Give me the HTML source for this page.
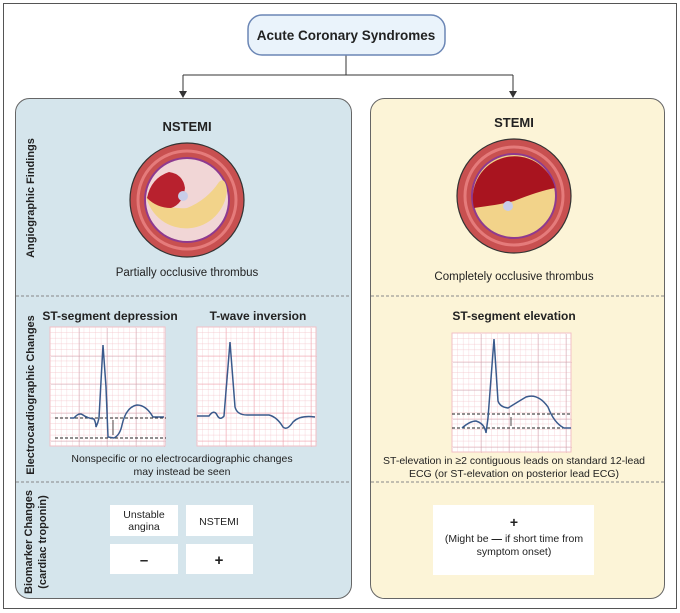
<!DOCTYPE html><html><head><style>body{margin:0;background:#fff}svg{display:block;font-family:"Liberation Sans",sans-serif}</style></head><body>
<svg width="680" height="613" viewBox="0 0 680 613" xmlns="http://www.w3.org/2000/svg">
<defs>
<pattern id="g" width="5.7" height="5.7" patternUnits="userSpaceOnUse"><path d="M5.7 0V5.7H0" fill="none" stroke="#f2bfc6" stroke-width="0.6"/></pattern>
<pattern id="G" width="28.5" height="28.5" patternUnits="userSpaceOnUse"><path d="M28.5 0V28.5H0" fill="none" stroke="#c99aa6" stroke-width="0.8"/></pattern>
<pattern id="G2" width="28.5" height="28.5" patternUnits="userSpaceOnUse"><path d="M28.5 0V28.5H0" fill="none" stroke="#ef9aa6" stroke-width="0.8"/></pattern>
</defs>
<rect x="3.5" y="3.5" width="673" height="605" fill="#fff" stroke="#555" stroke-width="1"/>
<path d="M346 55V75M183 75H513M183 75V96M513 75V96" stroke="#333" fill="none"/>
<path d="M179 91L183 98L187 91ZM509 91L513 98L517 91Z" fill="#333"/>
<rect x="248" y="15" width="197" height="40" rx="14" fill="#eaf3fb" stroke="#6b86b5" stroke-width="1.5"/>
<text x="346" y="40" text-anchor="middle" font-size="13.5" font-weight="bold" fill="#222">Acute Coronary Syndromes</text>
<rect x="15.5" y="98.5" width="336" height="500" rx="14" fill="#d5e5ec" stroke="#666"/>
<rect x="370.5" y="98.5" width="294" height="500" rx="14" fill="#fcf4d7" stroke="#666"/>
<path d="M16 296H351M371 296H664M16 482H351M371 482H664" stroke="#888" stroke-dasharray="3,2"/>
<text x="187" y="131" text-anchor="middle" font-size="13" font-weight="bold" fill="#222">NSTEMI</text>
<text x="514" y="127" text-anchor="middle" font-size="13" font-weight="bold" fill="#222">STEMI</text>
<g font-size="11" font-weight="bold" fill="#222">
<text transform="translate(34,198) rotate(-90)" text-anchor="middle">Angiographic Findings</text>
<text transform="translate(34,395) rotate(-90)" text-anchor="middle">Electrocardiographic Changes</text>
<text transform="translate(32,542) rotate(-90)" text-anchor="middle">Biomarker Changes</text>
<text transform="translate(46,542) rotate(-90)" text-anchor="middle">(cardiac troponin)</text>
</g>
<g transform="translate(187,200)">
<circle r="57" fill="#c85050" stroke="#333" stroke-width="1.2"/><circle r="49" fill="none" stroke="#e57b7b" stroke-width="3"/>
<circle r="43" fill="#8e3a8f"/><circle r="41" fill="#f1d6d6"/>
<path d="M-41 -4Q-20 10 0 8Q20 0 32 -18Q38 -24 40 -10A41 41 0 0 1 -41 -4Z" fill="#f2d38a"/>
<path d="M-40 -2Q-36 -22 -18 -28Q-4 -26 -2 -12Q-4 4 -16 8Q-30 8 -40 -2Z" fill="#b8212e"/>
<circle cx="-4" cy="-4" r="5" fill="#c8cde8"/>
</g>
<g transform="translate(514,196)">
<circle r="57" fill="#c85050" stroke="#333" stroke-width="1.2"/><circle r="49" fill="none" stroke="#e57b7b" stroke-width="3"/>
<circle r="43" fill="#8e3a8f"/><circle r="41" fill="#f2d38a"/>
<path d="M-40 12Q-10 8 0 5Q25 -5 41 -8A41 41 0 0 0 -40 12Z" fill="#a9141f"/>
<circle cx="-6" cy="10" r="5" fill="#c8cde8"/>
</g>
<g font-size="11.5" fill="#222" text-anchor="middle">
<text x="187" y="276">Partially occlusive thrombus</text>
<text x="514" y="280">Completely occlusive thrombus</text>
</g>
<g font-size="12" font-weight="bold" fill="#222" text-anchor="middle">
<text x="110" y="320">ST-segment depression</text>
<text x="258" y="320">T-wave inversion</text>
<text x="514" y="320">ST-segment elevation</text>
</g>
<g transform="translate(50,327)">
<rect width="115" height="119" fill="#fff"/><rect width="115" height="119" fill="url(#g)"/><rect width="115" height="119" fill="url(#G)" transform="translate(1,1)"/>
<rect width="115" height="119" fill="none" stroke="#f2bfc6"/>
<path d="M5 91H116M5 111H116" stroke="#222" stroke-dasharray="3,2"/>
<path d="M20 91H24Q29 85 33 88T44 92Q46 96 46 100Q48 96 49 91L53 18L56 60L58 110L64 111Q70 108 72 98Q76 80 87 78Q96 78 103 90H114" fill="none" stroke="#3a5a8c" stroke-width="1.5"/>
<path d="M63 93V108" stroke="#222" stroke-width="0.8"/>
</g>
<g transform="translate(197,327)">
<rect width="119" height="119" fill="#fff"/><rect width="119" height="119" fill="url(#g)"/><rect width="119" height="119" fill="url(#G2)" transform="translate(1,1)"/>
<rect width="119" height="119" fill="none" stroke="#f2bfc6"/>
<path d="M0 89H12Q17 82 20 88T27 89L33 15L38 80Q40 88 50 88H72Q80 90 86 100Q90 104 96 95Q103 88 118 90" fill="none" stroke="#3a5a8c" stroke-width="1.5"/>
</g>
<g transform="translate(452,333)">
<rect width="119" height="119" fill="#fff"/><rect width="119" height="119" fill="url(#g)"/><rect width="119" height="119" fill="url(#G)" transform="translate(1,1)"/>
<rect width="119" height="119" fill="none" stroke="#f2bfc6"/>
<path d="M0 81H119M0 95H119" stroke="#222" stroke-dasharray="3,2"/>
<path d="M10 95Q18 88 24 88Q30 90 32 94Q34 98 34 100L36 85L42 6L46 68Q48 74 56 75Q64 70 74 64Q86 60 96 74Q102 90 112 95H119" fill="none" stroke="#3a5a8c" stroke-width="1.5"/>
<path d="M59 84V93" stroke="#222" stroke-width="0.8"/>
</g>
<g font-size="10.5" fill="#222" text-anchor="middle">
<text x="182" y="462">Nonspecific or no electrocardiographic changes</text>
<text x="182" y="475">may instead be seen</text>
<text x="514" y="464">ST-elevation in ≥2 contiguous leads on standard 12-lead</text>
<text x="514" y="477">ECG (or ST-elevation on posterior lead ECG)</text>
</g>
<g fill="#fff"><rect x="110" y="505" width="68" height="31"/><rect x="186" y="505" width="67" height="31"/><rect x="110" y="544" width="68" height="30"/><rect x="186" y="544" width="67" height="30"/><rect x="433" y="505" width="161" height="70"/></g>
<g font-size="10.5" fill="#222" text-anchor="middle">
<text x="144" y="518">Unstable</text><text x="144" y="530">angina</text>
<text x="219" y="525">NSTEMI</text>
<text x="144" y="565" font-size="15" font-weight="bold">–</text>
<text x="219" y="565" font-size="15" font-weight="bold">+</text>
<text x="514" y="527" font-size="14" font-weight="bold">+</text>
<text x="514" y="542">(Might be <tspan font-weight="bold">—</tspan> if short time from</text>
<text x="514" y="555">symptom onset)</text>
</g>
</svg>
</body></html>
